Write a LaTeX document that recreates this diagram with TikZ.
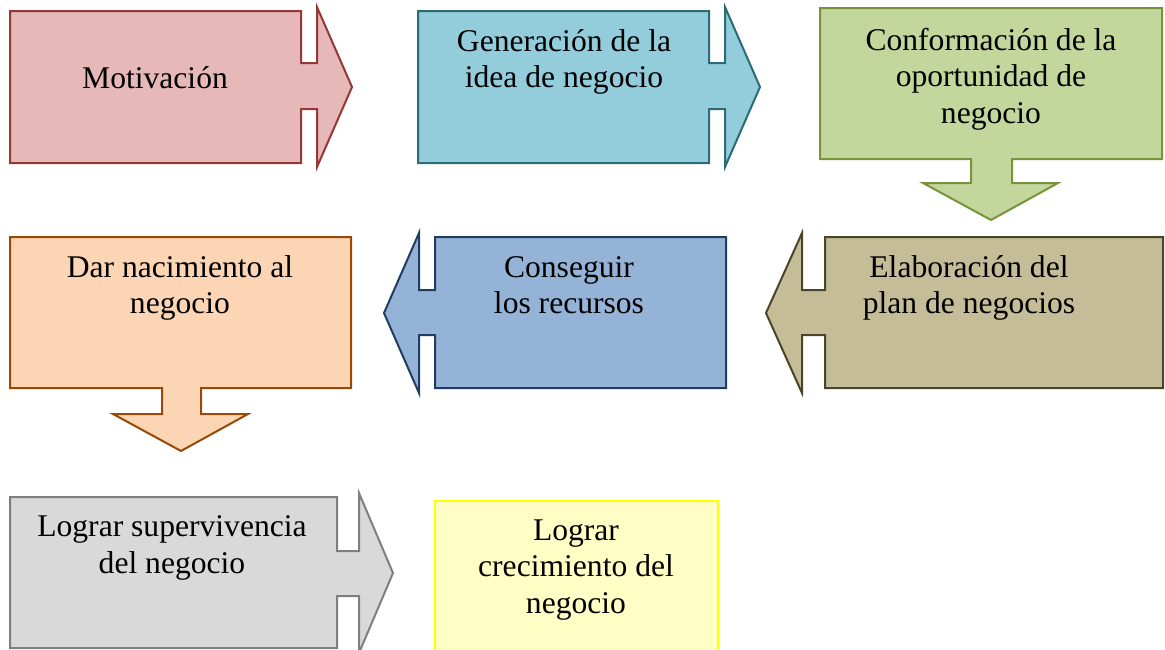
\documentclass[tikz,border=0pt]{standalone}
\usepackage{fontspec}
\setmainfont{Liberation Serif}
\definecolor{motfill}{HTML}{E6B8B7}\definecolor{motline}{HTML}{953735}
\definecolor{genfill}{HTML}{93CDDC}\definecolor{genline}{HTML}{2B6B78}
\definecolor{conffill}{HTML}{C3D69B}\definecolor{confline}{HTML}{77933C}
\definecolor{elabfill}{HTML}{C4BD97}\definecolor{elabline}{HTML}{4A452A}
\definecolor{recfill}{HTML}{95B3D7}\definecolor{recline}{HTML}{1F3D60}
\definecolor{nacfill}{HTML}{FCD5B5}\definecolor{nacline}{HTML}{984807}
\definecolor{supfill}{HTML}{D9D9D9}\definecolor{supline}{HTML}{7F7F7F}
\definecolor{crecfill}{HTML}{FFFFC5}\definecolor{crecline}{HTML}{FFFF00}
\begin{document}
\begin{tikzpicture}[x=1pt,y=-1pt,line width=2pt,line join=miter,
  txt/.style={font=\fontsize{31.6}{36.5}\selectfont,align=center,inner sep=0pt}]
\useasboundingbox (0,0) rectangle (1165,649);
\clip (0,0) rectangle (1165,649);
% fila 1
\draw[draw=motline,fill=motfill] (10,11)--(301,11)--(301,63)--(317,63)--(317,7)--(352,87)--(317,167)--(317,109)--(301,109)--(301,163)--(10,163)--cycle;
\draw[draw=genline,fill=genfill] (418,11)--(709,11)--(709,63)--(725,63)--(725,7)--(760,87)--(725,167)--(725,109)--(709,109)--(709,163)--(418,163)--cycle;
\draw[draw=confline,fill=conffill] (820,8)--(1162,8)--(1162,159)--(1012,159)--(1012,183)--(1058,183)--(991,220)--(923,183)--(971,183)--(971,159)--(820,159)--cycle;
% fila 2
\draw[draw=elabline,fill=elabfill] (1163,237)--(1163,388)--(825,388)--(825,335)--(802,335)--(802,393)--(766,313)--(802,233)--(802,290)--(825,290)--(825,237)--cycle;
\draw[draw=recline,fill=recfill] (726,237)--(726,388)--(435,388)--(435,335)--(419,335)--(419,393)--(384,313)--(419,233)--(419,290)--(435,290)--(435,237)--cycle;
\draw[draw=nacline,fill=nacfill] (10,237)--(351,237)--(351,388)--(201,388)--(201,414)--(248,414)--(181,451)--(113,414)--(162,414)--(162,388)--(10,388)--cycle;
% fila 3
\draw[draw=supline,fill=supfill] (10,497)--(337,497)--(337,551)--(359,551)--(359,493)--(393,573)--(359,653)--(359,596)--(337,596)--(337,648)--(10,648)--cycle;
\draw[draw=crecline,fill=crecfill] (435,501) rectangle (718,660);
% textos
\node[txt] (motiv) at (155,78) {Motivación};
\node[txt] (gen) at (564,62) {Generación de la\\idea de negocio};
\node[txt] (conf) at (991,79) {Conformación de la\\oportunidad de\\negocio};
\node[txt] (elab) at (969,288) {Elaboración del\\plan de negocios};
\node[txt] (rec) at (569,285) {Conseguir\\los recursos};
\node[txt] (nac) at (180,288) {Dar nacimiento al\\negocio};
\node[txt] (sup) at (172,548) {Lograr supervivencia\\del negocio};
\node[txt] (crec) at (576,570) {Lograr\\crecimiento del\\negocio};
\end{tikzpicture}
\end{document}
